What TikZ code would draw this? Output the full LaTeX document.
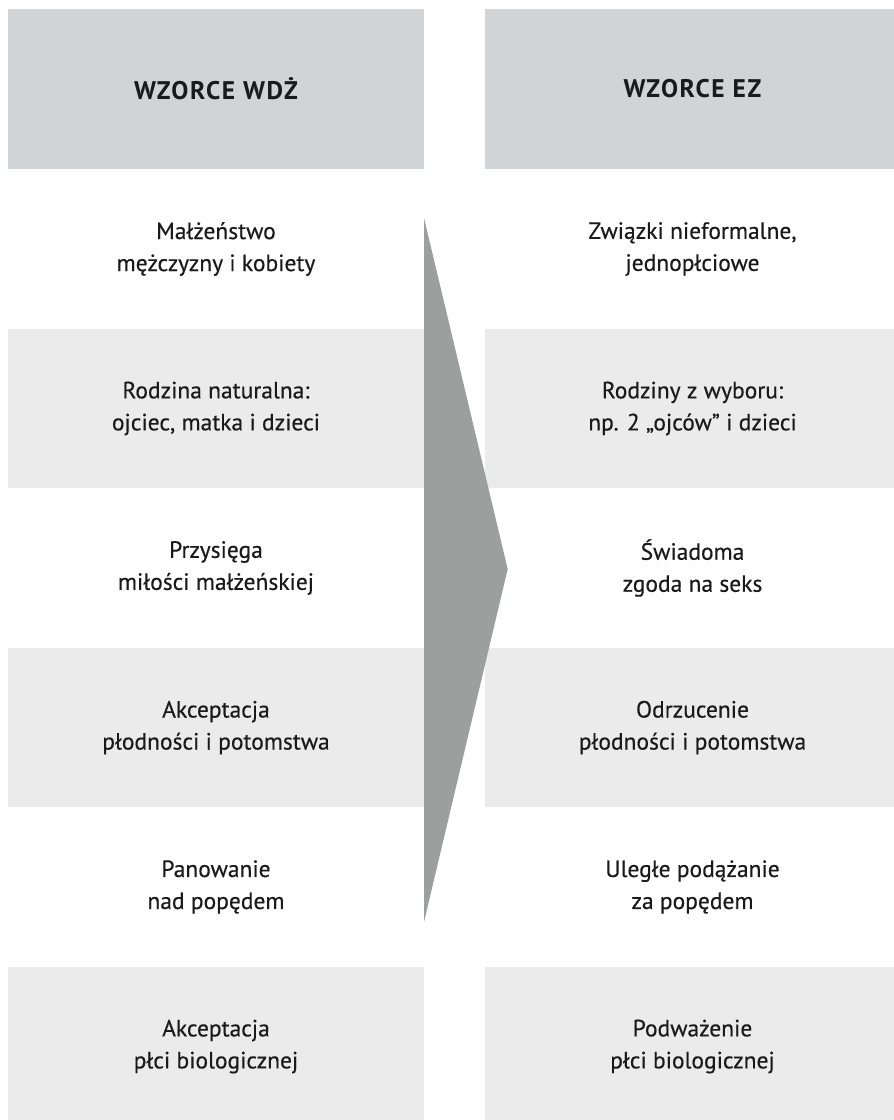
\documentclass[tikz,border=0pt]{standalone}
\usepackage{fontspec}
\setmainfont{PT Sans}
\newfontfamily\bodyfont{PT Sans}[FakeBold=0.35]
\newfontfamily\headfont{PT Sans}[LetterSpace=6]
\definecolor{hdr}{HTML}{D1D3D4}
\definecolor{lite}{HTML}{EBEBEB}
\definecolor{arr}{HTML}{9D9F9E}
\definecolor{txt}{HTML}{1A1A1A}
\begin{document}
\begin{tikzpicture}[x=1pt,y=-1pt,
  cell/.style={minimum width=416pt, minimum height=159.5pt, inner sep=0pt, outer sep=0pt, align=center, text=txt, font={\bodyfont\fontsize{23.5}{32}\selectfont}},
  hdrcell/.style={cell, fill=hdr, font={\headfont\fontsize{25.5}{28}\selectfont\bfseries}},
  gcell/.style={cell, fill=lite},
  wcell/.style={cell}]
\clip (0,0) rectangle (894,1120);
\fill[white] (0,0) rectangle (894,1120);
% left column
\node[hdrcell] (l0) at (216,88.75) {WZORCE WDŻ};
\node[wcell] (l1) at (216,249) {Małżeństwo\\mężczyzny i kobiety};
\node[gcell] (l2) at (216,408.5) {Rodzina naturalna:\\ojciec, matka i dzieci};
\node[wcell] (l3) at (216,568) {Przysięga\\miłości małżeńskiej};
\node[gcell] (l4) at (216,727.5) {Akceptacja\\płodności i potomstwa};
\node[wcell] (l5) at (216,887) {Panowanie\\nad popędem};
\node[gcell] (l6) at (216,1046.5) {Akceptacja\\płci biologicznej};
% right column
\node[hdrcell] (r0) at (692.5,88.75) {WZORCE EZ};
\node[wcell] (r1) at (692.5,249) {Związki nieformalne,\\jednopłciowe};
\node[gcell] (r2) at (692.5,408.5) {Rodziny z wyboru:\\np. 2 „ojców” i dzieci};
\node[wcell] (r3) at (692.5,568) {Świadoma\\zgoda na seks};
\node[gcell] (r4) at (692.5,727.5) {Odrzucenie\\płodności i potomstwa};
\node[wcell] (r5) at (692.5,887) {Uległe podążanie\\za popędem};
\node[gcell] (r6) at (692.5,1046.5) {Podważenie\\płci biologicznej};
% arrow
\fill[arr] (424,218) -- (507.7,569) -- (424,922) -- cycle;
\end{tikzpicture}
\end{document}
